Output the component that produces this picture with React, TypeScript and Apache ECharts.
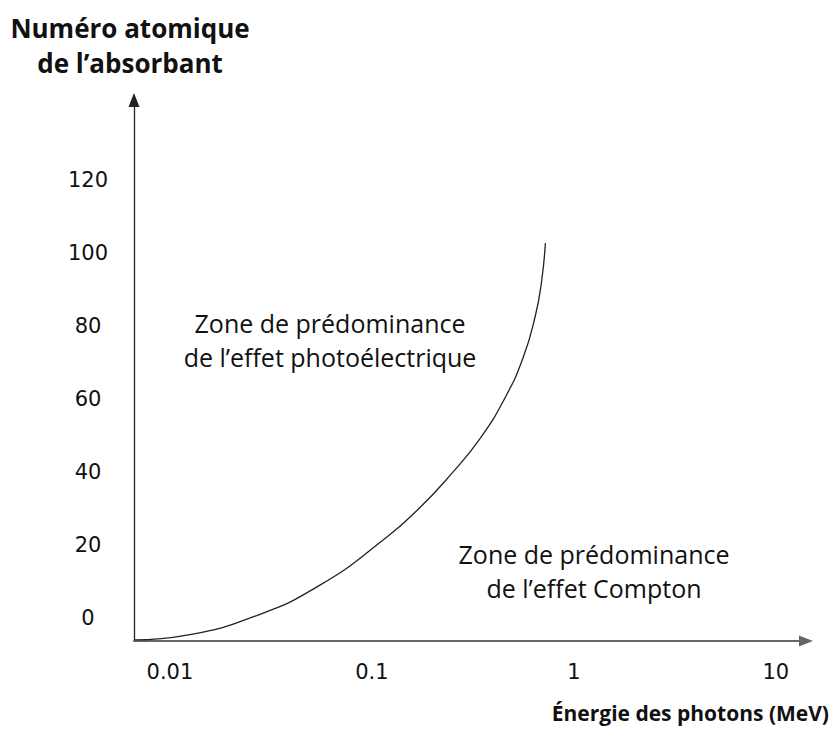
import React, { useEffect, useRef } from 'react';
import * as echarts from 'echarts';

// Tick values / labels
const ENERGY_TICKS = [0.01, 0.1, 1, 10];
const ENERGY_TICK_LABELS = ['0.01', '0.1', '1', '10'];
const Z_TICKS = [0, 20, 40, 60, 80, 100, 120];
const Z_TICK_LABELS = ['0', '20', '40', '60', '80', '100', '120'];

// Boundary curve (photon energy in MeV, atomic number Z)
const CURVE_ENERGY = [0.00671, 0.01214, 0.02576, 0.0553, 0.1187, 0.174, 0.2449, 0.3444, 0.456, 0.5598, 0.6457, 0.6934, 0.7228];
const CURVE_Z = [-6.0, -4.7, 0.3, 9.0, 22.2, 30.4, 39.2, 49.3, 60.3, 71.2, 83.0, 92.6, 102.7];

// Axis extents
const ENERGY_MIN = 0.00664;
const ENERGY_MAX = 14.1;
const Z_MIN = -6.3;
const Z_MAX = 141.9;

const FONT = '"Open Sans", "Noto Sans", sans-serif';
const NUM_FONT = '"DejaVu Sans", Verdana, sans-serif';

export default function App() {
  const ref = useRef<HTMLDivElement>(null);
  useEffect(() => {
    if (!ref.current) return;
    const chart = echarts.init(ref.current, undefined, { renderer: 'svg' });
    const lg = (v: number) => Math.log10(v);
    const tickLogs = ENERGY_TICKS.map(lg);
    chart.setOption({
      animation: false,
      backgroundColor: '#ffffff',
      grid: { left: 134, right: 29, top: 100, bottom: 88 },
      xAxis: {
        type: 'value',
        min: lg(ENERGY_MIN),
        max: lg(ENERGY_MAX),
        splitLine: { show: false },
        axisTick: { show: false },
        axisLine: {
          show: true,
          onZero: false,
          symbol: ['none', 'triangle'],
          symbolSize: [11, 14],
          lineStyle: { color: '#666', width: 2 },
        },
        axisLabel: {
          customValues: tickLogs,
          margin: 20,
          fontFamily: NUM_FONT,
          fontSize: 21,
          color: '#111',
          formatter: (v: number) => {
            const i = tickLogs.findIndex((t) => Math.abs(t - v) < 1e-6);
            return i >= 0 ? ENERGY_TICK_LABELS[i] : '';
          },
        },
      },
      yAxis: {
        type: 'value',
        min: Z_MIN,
        max: Z_MAX,
        splitLine: { show: false },
        axisTick: { show: false },
        axisLine: {
          show: true,
          onZero: false,
          symbol: ['none', 'triangle'],
          symbolSize: [11, 14],
          lineStyle: { color: '#222', width: 1.3 },
        },
        axisLabel: {
          customValues: Z_TICKS,
          margin: 46,
          align: 'center',
          fontFamily: NUM_FONT,
          fontSize: 21,
          color: '#111',
          formatter: (v: number) => {
            const i = Z_TICKS.indexOf(Math.round(v));
            return i >= 0 ? Z_TICK_LABELS[i] : '';
          },
        },
      },
      series: [
        {
          type: 'line',
          data: CURVE_ENERGY.map((e, i) => [lg(e), CURVE_Z[i]]),
          smooth: 0.5,
          showSymbol: false,
          symbol: 'none',
          lineStyle: { color: '#222', width: 1.3 },
          silent: true,
        },
      ],
      graphic: [
        {
          type: 'text',
          x: 130,
          y: 10,
          style: {
            text: 'Numéro atomique\nde l\u2019absorbant',
            font: `bold 26px ${FONT}`,
            fill: '#111',
            align: 'center',
            verticalAlign: 'top',
            lineHeight: 35,
          },
        },
        {
          type: 'text',
          x: 829,
          y: 713,
          style: {
            text: 'Énergie des photons (MeV)',
            font: `bold 21px ${FONT}`,
            fill: '#111',
            align: 'right',
            verticalAlign: 'middle',
          },
        },
        {
          type: 'text',
          x: 330,
          y: 340,
          style: {
            text: 'Zone de prédominance\nde l\u2019effet photoélectrique',
            font: `25px ${FONT}`,
            fill: '#111',
            align: 'center',
            verticalAlign: 'middle',
            lineHeight: 34,
          },
        },
        {
          type: 'text',
          x: 594,
          y: 571,
          style: {
            text: 'Zone de prédominance\nde l\u2019effet Compton',
            font: `25px ${FONT}`,
            fill: '#111',
            align: 'center',
            verticalAlign: 'middle',
            lineHeight: 34,
          },
        },
      ],
    });
    return () => chart.dispose();
  }, []);
  return (
    <div
      ref={ref}
      style={{ position: 'fixed', left: 0, top: 0, width: 835, height: 729, background: '#fff' }}
    />
  );
}
